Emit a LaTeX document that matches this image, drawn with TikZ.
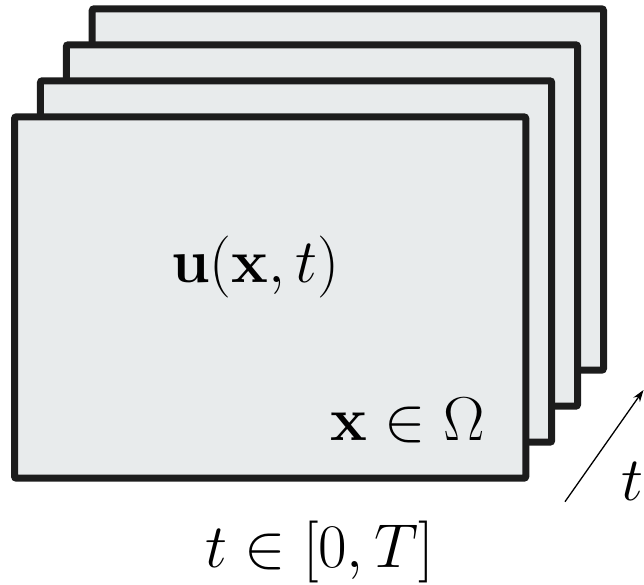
\RequirePackage{fix-cm}
\documentclass[tikz,border=0pt]{standalone}
\usepackage{xcolor}
\usetikzlibrary{arrows.meta}
\definecolor{SheetFill}{HTML}{E8EBEC}
\definecolor{SheetEdge}{HTML}{1C1C1C}

\begin{document}
\begin{tikzpicture}[x=1pt, y=-1pt]

  % Bildrahmen (644 x 585)
  \useasboundingbox (0,0) rectangle (644,585);

  % Stapel der Zeitschichten, hinten nach vorne
  \foreach \i in {3,2,1,0}{
    \begin{scope}[shift={(\i*25.9,-\i*36)}]
      \filldraw[fill=SheetFill, draw=SheetEdge, line width=7pt, rounded corners=2pt] (14.5,116.8) rectangle (525.8,478.2);
    \end{scope}
  }

  % Beschriftungen
  \node[anchor=base, inner sep=0pt, font=\fontsize{62}{74}\selectfont] (field) at (255.5,282) {$\mathbf{u}(\mathbf{x},t)$};
  \node[anchor=base east, inner sep=0pt, font=\fontsize{62}{74}\selectfont] (domain) at (485,440) {$\mathbf{x}\in\Omega$};
  \node[anchor=base, inner sep=0pt, font=\fontsize{62}{74}\selectfont] (interval) at (319.5,567) {$t\in[0,T]$};

  % Zeitachse
  \coordinate (tfrom) at (565,501.7);
  \coordinate (tto) at (643.5,390);
  \draw[-{Stealth[length=12pt, width=8pt]}, line width=1.3pt] (tfrom) -- (tto);
  \node[anchor=base west, inner sep=0pt, font=\fontsize{62}{74}\selectfont] (tlabel) at (621,500) {$t$};

\end{tikzpicture}
\end{document}
